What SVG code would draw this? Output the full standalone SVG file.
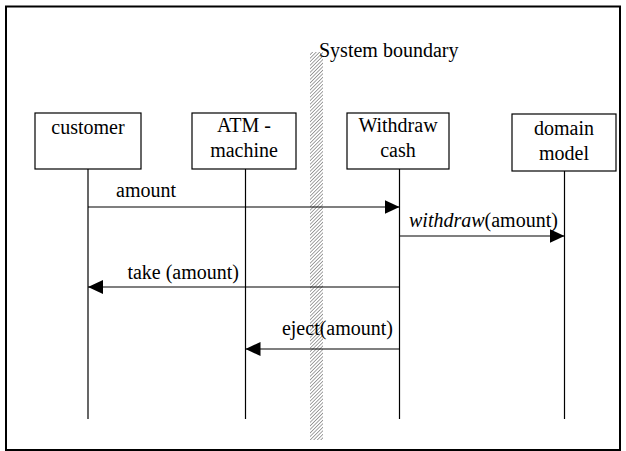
<svg xmlns="http://www.w3.org/2000/svg" width="626" height="451" viewBox="0 0 626 451">
  <style>
    .box { fill: #fff; stroke: #000; stroke-width: 1.2; }
    .life { stroke: #000; stroke-width: 1.2; fill: none; }
    .msg { stroke: #000; stroke-width: 1.2; fill: none; marker-end: url(#arrow); }
    .t { font-family: 'Liberation Serif', 'Times New Roman', 'DejaVu Serif', serif; font-size: 20px; fill: #000; }
    .c { text-anchor: middle; }
  </style>
  <defs>
    <marker id="arrow" markerUnits="userSpaceOnUse" markerWidth="16" markerHeight="16" refX="15" refY="7" orient="auto">
      <path d="M0,0 L15,7 L0,14 Z" fill="#000"/>
    </marker>
    <pattern id="hatch" patternUnits="userSpaceOnUse" width="2.5" height="2.5" patternTransform="rotate(45)">
      <rect width="2.5" height="2.5" fill="#fff"/>
      <line x1="0" y1="0" x2="0" y2="2.5" stroke="#666" stroke-width="1.2"/>
    </pattern>
  </defs>
  <rect x="0" y="0" width="626" height="451" fill="#fff"/>
  <rect id="frame" x="6" y="6.5" width="614" height="443.5" fill="none" stroke="#000" stroke-width="2"/>

  <g id="boundary" class="t" font-family="Liberation Serif, serif">
    <rect x="310" y="52" width="13" height="388" fill="url(#hatch)"/>
    <text x="319" y="57">System boundary</text>
  </g>

  <g id="customer" class="t" font-family="Liberation Serif, serif">
    <rect class="box" x="35" y="113" width="106" height="56"/>
    <text class="c" x="88" y="134">customer</text>
  </g>
  <g id="atm" class="t" font-family="Liberation Serif, serif">
    <rect class="box" x="192" y="113" width="104" height="56"/>
    <text class="c" x="244" y="132">ATM -</text>
    <text class="c" x="244" y="157">machine</text>
  </g>
  <g id="withdraw" class="t" font-family="Liberation Serif, serif">
    <rect class="box" x="347" y="113" width="102" height="56"/>
    <text class="c" x="398" y="132">Withdraw</text>
    <text class="c" x="398" y="157">cash</text>
  </g>
  <g id="domain" class="t" font-family="Liberation Serif, serif">
    <rect class="box" x="512" y="114" width="104" height="57"/>
    <text class="c" x="564" y="135">domain</text>
    <text class="c" x="564" y="160">model</text>
  </g>

  <g id="connectors" class="t" font-family="Liberation Serif, serif">
    <line class="life" x1="88" y1="169" x2="88" y2="419"/>
    <line class="life" x1="245.5" y1="169" x2="245.5" y2="419"/>
    <line class="life" x1="399.5" y1="169" x2="399.5" y2="419"/>
    <line class="life" x1="564.5" y1="171" x2="564.5" y2="419"/>
    <line class="msg" x1="88" y1="207" x2="399.5" y2="207"/>
    <line class="msg" x1="399.5" y1="236" x2="564.5" y2="236"/>
    <line class="msg" x1="399.5" y1="287" x2="88" y2="287"/>
    <line class="msg" x1="399.5" y1="349" x2="245.5" y2="349"/>
    <text x="116" y="197">amount</text>
    <text x="409" y="227"><tspan font-style="italic">withdraw</tspan>(amount)</text>
    <text x="239" y="279" text-anchor="end">take (amount)</text>
    <text x="393" y="335" text-anchor="end">eject(amount)</text>
  </g>
</svg>
